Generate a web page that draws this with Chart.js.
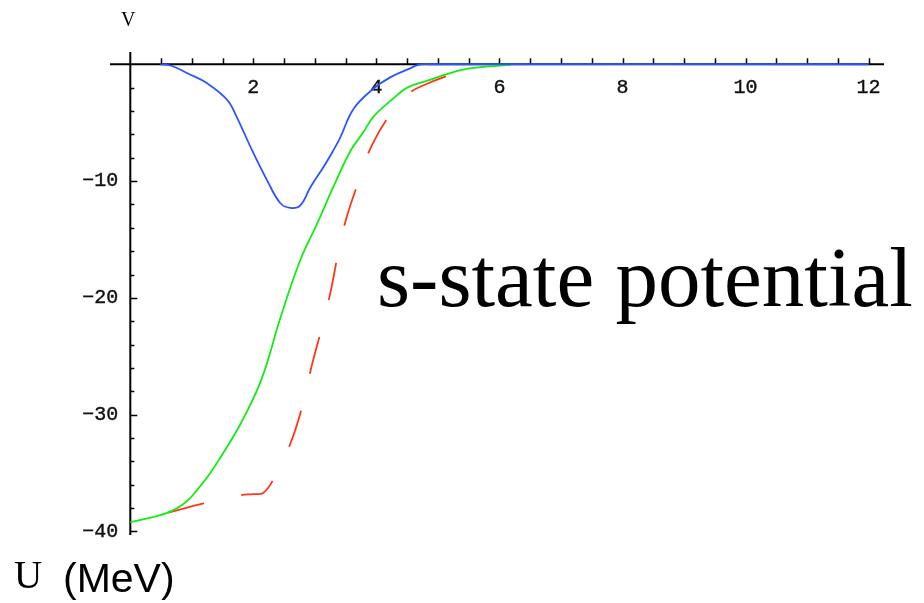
<!DOCTYPE html>
<html>
<head>
<meta charset="utf-8">
<script src="https://cdn.jsdelivr.net/npm/chart.js@4"></script>
<style>
  html, body { margin: 0; padding: 0; background: #fff; }
  #wrap { position: absolute; left: 0; top: 0; width: 924px; height: 603px; }
  .txt { position: absolute; line-height: 1; white-space: nowrap; color: #000; }
  #title { left: 377px; top: 228px; font: 85px "Liberation Serif", "Times New Roman", serif; }
  #unitU { left: 14px; top: 552px; font: 39px "Liberation Serif", serif; }
  #unitMeV { left: 63px; top: 555px; font: 41px "Liberation Sans", Arial, sans-serif; }
  #yLabel { left: 121px; top: 8px; font: 20px "Liberation Serif", serif; }
</style>
</head>
<body>
<div id="wrap"><canvas id="potChart"></canvas></div>
<div class="txt" id="yLabel">V</div>
<div class="txt" id="title">s-state potential</div>
<div class="txt" id="unitU">U</div>
<div class="txt" id="unitMeV">(MeV)</div>
<script>
// values (x: fm, y: MeV)
const blueX = [0.49, 0.68, 0.93, 1.25, 1.58, 1.74, 1.98, 2.23, 2.44, 2.6, 2.76, 2.93, 3.14, 3.3, 3.41, 3.63, 3.95, 4.23, 4.55, 4.68, 4.88, 12]
const blueY = [0, -0.15, -0.77, -1.63, -3.08, -4.63, -7.37, -10.0, -11.9, -12.3, -12.1, -10.5, -8.8, -7.37, -6.3, -3.8, -2.1, -1.1, -0.35, -0.05, 0, 0]

const greenX = [0, 0.6, 0.9, 1.14, 1.3, 1.46, 1.79, 2.13, 2.44, 2.76, 3.04, 3.3, 3.58, 3.79, 3.95, 4.28, 4.5, 4.83, 5.37, 5.69, 6.18]
const greenY = [-39.2, -38.4, -37.5, -36.1, -35.0, -33.7, -30.8, -27.0, -21.7, -16.8, -13.6, -10.5, -7.4, -5.8, -4.5, -2.9, -2.0, -1.4, -0.5, -0.25, -0.05]

const redX = [0.6, 1.19, 1.79, 2.0, 2.16, 2.33, 2.6, 2.8, 2.94, 3.1, 3.25, 3.37, 3.51, 3.72, 3.93, 4.26, 4.5, 4.72, 5.28, 5.5]
const redY = [-38.4, -37.6, -36.9, -36.8, -36.7, -35.5, -32.5, -29.2, -26.0, -22.8, -19.6, -16.4, -13.2, -9.9, -6.9, -4.0, -2.6, -1.9, -0.77, -0.5]

const xTickLabels = [2, 4, 6, 8, 10, 12]
const yTickLabels = [-10, -20, -30, -40]

const pts = (xs, ys) => xs.map((x, i) => ({ x, y: ys[i] }))

// axes crossing at the origin, Mathematica style
const originAxes = {
    id: "originAxes",
    beforeDatasetsDraw(chart) {
        const { ctx, scales: { x, y } } = chart
        const x0 = x.getPixelForValue(0)
        const y0 = y.getPixelForValue(0)
        ctx.save()
        ctx.strokeStyle = "#000"
        ctx.fillStyle = "#111"
        ctx.lineWidth = 2
        ctx.beginPath()
        ctx.moveTo(x.left, y0)
        ctx.lineTo(x.right, y0)
        ctx.moveTo(x0, y.top)
        ctx.lineTo(x0, y.bottom)
        ctx.stroke()

        ctx.lineWidth = 1.5
        ctx.beginPath()
        for (let v = 0.5; v <= 12; v += 0.5) {
            const px = Math.round(x.getPixelForValue(v)) + 0.5
            ctx.moveTo(px, y0)
            ctx.lineTo(px, y0 - 6)
        }
        for (let v = -2; v >= -40; v -= 2) {
            const py = Math.round(y.getPixelForValue(v)) + 0.5
            ctx.moveTo(x0, py)
            ctx.lineTo(x0 + (v % 10 === 0 ? 7 : 4), py)
        }
        ctx.stroke()

        ctx.font = "20px 'Liberation Mono', monospace"
        ctx.textAlign = "center"
        ctx.textBaseline = "middle"
        ctx.lineWidth = 0.4
        ctx.strokeStyle = "#111"
        xTickLabels.forEach(v => {
            const px = x.getPixelForValue(v)
            ctx.fillText(String(v), px, y0 + 23)
            ctx.strokeText(String(v), px, y0 + 23)
        })
        ctx.textAlign = "right"
        yTickLabels.forEach(v => {
            const py = y.getPixelForValue(v)
            ctx.fillText("\u2212" + Math.abs(v), x0 - 12, py)
            ctx.strokeText("\u2212" + Math.abs(v), x0 - 12, py)
        })
        ctx.restore()
    }
}

new Chart(document.getElementById("potChart"), {
    type: "scatter",
    data: {
        datasets: [
            { data: pts(blueX, blueY), borderColor: "rgb(45,85,255)", borderWidth: 1.8 },
            { data: pts(greenX, greenY), borderColor: "rgb(20,235,20)", borderWidth: 1.8 },
            { data: pts(redX, redY), borderColor: "rgb(255,55,25)", borderWidth: 1.8, borderDash: [38, 38] }
        ]
    },
    options: {
        responsive: true,
        maintainAspectRatio: false,
        animation: false,
        layout: { padding: { left: 110, right: 40, top: 52, bottom: 68 } },
        datasets: { scatter: { showLine: true, pointRadius: 0, tension: 0.4, fill: false } },
        scales: {
            x: { type: "linear", min: -0.33, max: 12.25, display: false },
            y: { type: "linear", min: -40.3, max: 1.05, display: false }
        },
        plugins: { legend: { display: false }, tooltip: { enabled: false } }
    },
    plugins: [originAxes]
})
</script>
</body>
</html>
